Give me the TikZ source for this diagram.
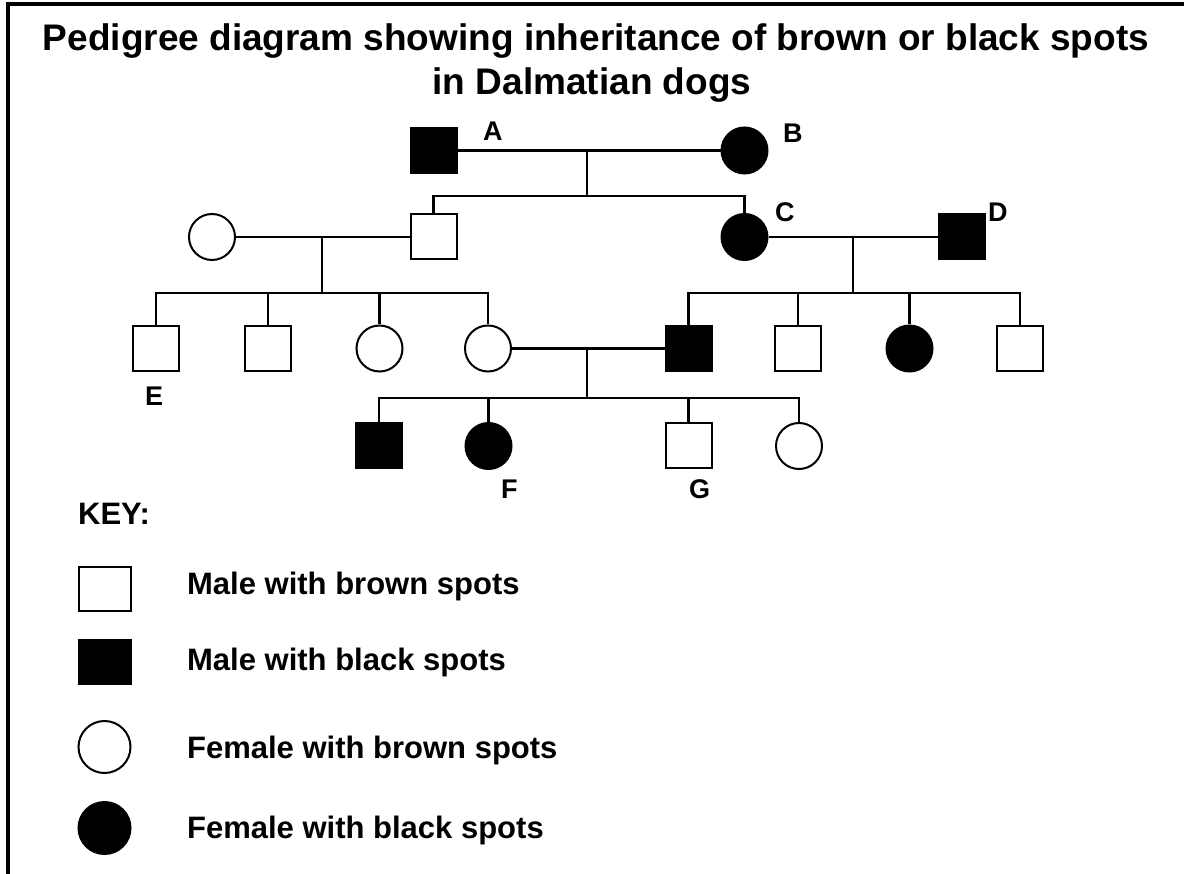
\documentclass[tikz,border=0pt]{standalone}
\usepackage{fontspec}
\setmainfont{Liberation Sans}
\begin{document}
\begin{tikzpicture}[x=1pt,y=-1pt,
  line width=2.3pt,
  msq/.style={rectangle, draw, line width=2pt, minimum width=46pt, minimum height=45pt, inner sep=0pt, fill=white},
  fcirc/.style={circle, draw, line width=2pt, minimum size=46pt, inner sep=0pt, fill=white},
  aff/.style={fill=black},
  keysq/.style={rectangle, draw, line width=2pt, minimum width=52pt, minimum height=44pt, inner sep=0pt, fill=white},
  keycirc/.style={circle, draw, line width=2pt, minimum size=52pt, inner sep=0pt, fill=white},
  lbl/.style={font=\fontsize{27}{32}\selectfont\bfseries, inner sep=0pt, anchor=base west},
  keytxt/.style={font=\fontsize{31}{36}\selectfont\bfseries, inner sep=0pt, anchor=base west},
  ttl/.style={font=\fontsize{37}{44}\selectfont\bfseries, inner sep=0pt, anchor=base}
]
\useasboundingbox (0,0) rectangle (1184,874);
\fill[white] (0,0) rectangle (1184,874);
\draw[line width=4pt] (8,874) -- (8,4) -- (1184,4);

% title
\node[ttl] (t1) at (596,51) {Pedigree diagram showing inheritance of brown or black spots};
\node[ttl] (t2) at (592,95) {in Dalmatian dogs};

% generation 1
\node[msq, aff] (A) at (433.5,150.5) {};
\node[fcirc, aff] (B) at (744.5,150.5) {};
\node[lbl] (lA) at (482,141) {A};
\node[lbl] (lB) at (782,143) {B};
\coordinate (m1) at (587,150.5);
\coordinate (s1) at (587,196);
\draw (A.east) -- (B.west);
\draw (m1) -- (s1);

% generation 2
\node[fcirc] (W1) at (212,237) {};
\node[msq] (S1) at (433.5,237) {};
\node[fcirc, aff] (C) at (744.5,237) {};
\node[msq, aff] (D) at (961.5,237) {};
\node[lbl] (lC) at (774,222) {C};
\node[lbl] (lD) at (987,222) {D};
\draw (S1.north) |- (s1) -| (C.north);

\coordinate (m2) at (322,237);
\coordinate (s2) at (322,293);
\draw (W1.east) -- (S1.west);
\draw (m2) -- (s2);

\coordinate (m3) at (853,237);
\coordinate (s3) at (853,293);
\draw (C.east) -- (D.west);
\draw (m3) -- (s3);

% generation 3
\node[msq] (E) at (156,348.5) {};
\node[msq] (K2) at (268,348.5) {};
\node[fcirc] (K3) at (379.5,348.5) {};
\node[fcirc] (K4) at (488,348.5) {};
\node[msq, aff] (K5) at (688.5,348.5) {};
\node[msq] (K6) at (798,348.5) {};
\node[fcirc, aff] (K7) at (909.5,348.5) {};
\node[msq] (K8) at (1020,348.5) {};
\node[lbl] (lE) at (144,406) {E};

\draw (E.north) |- (s2) -| (K4.north);
\draw (K2.north) -- (K2.north |- s2);
\draw (K3.north) -- (K3.north |- s2);
\draw (K5.north) |- (s3) -| (K8.north);
\draw (K6.north) -- (K6.north |- s3);
\draw (K7.north) -- (K7.north |- s3);

\coordinate (m4) at (587,348.5);
\coordinate (s4) at (587,398);
\draw (K4.east) -- (K5.west);
\draw (m4) -- (s4);

% generation 4
\node[msq, aff] (L1) at (379,446) {};
\node[fcirc, aff] (F) at (488.5,446) {};
\node[msq] (G) at (688.5,446) {};
\node[fcirc] (L4) at (799,446) {};
\node[lbl] (lF) at (500,498) {F};
\node[lbl] (lG) at (688,498) {G};

\draw (L1.north) |- (s4) -| (L4.north);
\draw (F.north) -- (F.north |- s4);
\draw (G.north) -- (G.north |- s4);

% key
\node[keytxt] (key) at (77,525) {KEY:};
\node[keysq] (k1) at (104.5,589) {};
\node[keysq, aff] (k2) at (104.5,662) {};
\node[keycirc] (k3) at (104.5,747) {};
\node[keycirc, aff] (k4) at (104.5,828) {};
\node[keytxt] (kt1) at (186,594) {Male with brown spots};
\node[keytxt] (kt2) at (186,670) {Male with black spots};
\node[keytxt] (kt3) at (186,758) {Female with brown spots};
\node[keytxt] (kt4) at (186,838) {Female with black spots};
\end{tikzpicture}
\end{document}
